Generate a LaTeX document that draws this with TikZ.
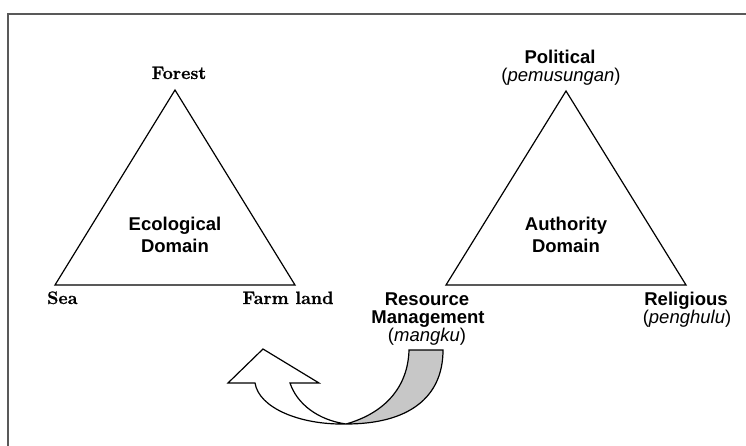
\documentclass[tikz,border=0pt]{standalone}
\usepackage{fontspec}
\setsansfont{Liberation Sans}
\newfontfamily\serbf{Latin Modern Roman}[BoldFeatures={FakeBold=0.8}]
\begin{document}
\begin{tikzpicture}[x=1pt,y=-1pt,
  frameline/.style={draw=black!65,line width=2.2pt},
  triline/.style={draw=black,line width=1.2pt,line join=miter},
  serlab/.style={inner sep=0pt,anchor=base,font=\fontsize{18}{20}\selectfont\serbf\bfseries},
  sanlab/.style={inner sep=0pt,anchor=base,font=\fontsize{18.5}{20}\selectfont\sffamily\bfseries},
  itlab/.style={inner sep=0pt,anchor=base,font=\fontsize{18.5}{20}\selectfont\sffamily},
  ribbon/.style={draw=black,line width=1.2pt,line join=miter}]
\useasboundingbox (0,0) rectangle (746,446);
% frame (right and bottom edges lie outside the view)
\draw[frameline] (746,14) -- (8,14) -- (8,446);
% ecological triangle
\coordinate (ea) at (175,90);
\coordinate (el) at (55,285);
\coordinate (er) at (295,285);
\draw[triline] (ea) -- (el) -- (er) -- cycle;
% authority triangle
\coordinate (aa) at (566,91);
\coordinate (al) at (446,285);
\coordinate (ar) at (686,285);
\draw[triline] (aa) -- (al) -- (ar) -- cycle;
% labels ecological
\node[serlab] (forest) at (179,79) {Forest};
\node[sanlab] (eco1) at (175,231) {Ecological};
\node[sanlab] (eco2) at (175,252) {Domain};
\node[serlab,anchor=base west] (sea) at (47,304) {Sea};
\node[serlab] (farm) at (288,304) {Farm land};
% labels authority
\node[sanlab] (pol) at (560,64) {Political};
\node[itlab] (pem) at (561,82) {(\textit{pemusungan})};
\node[sanlab] (aut1) at (566,231) {Authority};
\node[sanlab] (aut2) at (566,252) {Domain};
\node[sanlab] (res1) at (427,305) {Resource};
\node[sanlab] (res2) at (428,323) {Management};
\node[itlab] (res3) at (427,341) {(\textit{mangku})};
\node[sanlab] (rel1) at (686,305) {Religious};
\node[itlab] (rel2) at (687,323) {(\textit{penghulu})};
% twisted U-arrow
\coordinate (p) at (346,424);
\fill[black!22] (p) .. controls (385,413) and (408,387) .. (409,350)
  -- (443,350) .. controls (443,398) and (408,424) .. (p) -- cycle;
\draw[ribbon] (p) .. controls (385,413) and (408,387) .. (409,350)
  -- (443,350) .. controls (443,398) and (408,424) .. (p);
\draw[ribbon,fill=white] (p) .. controls (300,425) and (259,408) .. (255,383)
  -- (228,383) -- (263,349) -- (319,383) -- (290,383)
  .. controls (297,404) and (318,420) .. (p) -- cycle;
\end{tikzpicture}
\end{document}
